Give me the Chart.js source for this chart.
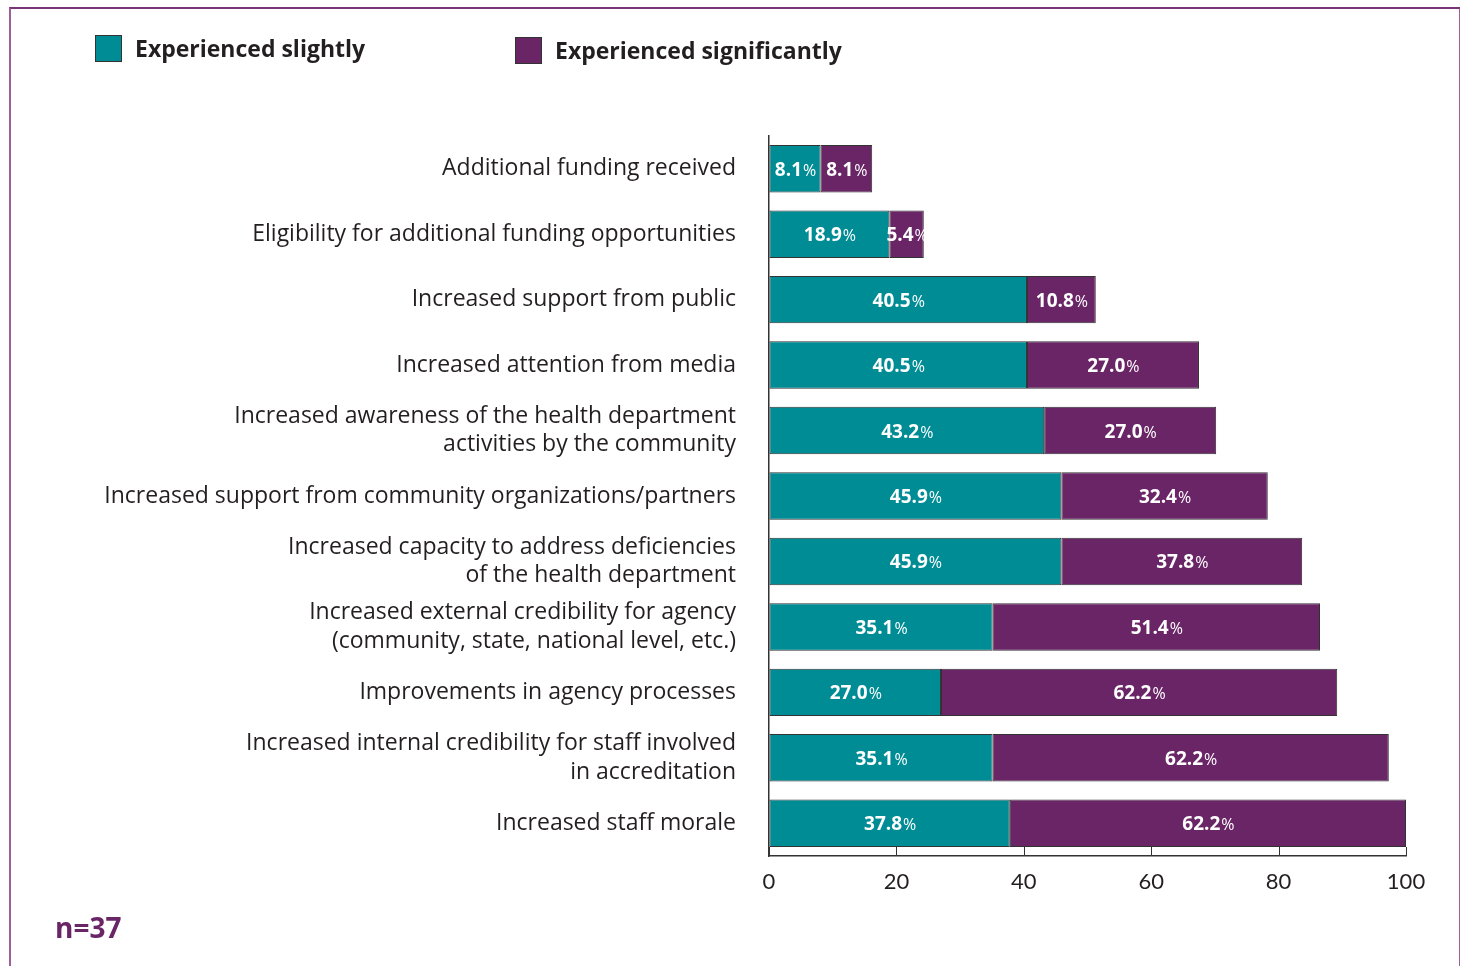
<!DOCTYPE html>
<html>
<head>
<meta charset="utf-8">
<script src="https://cdn.jsdelivr.net/npm/chart.js@4.4.1/dist/chart.umd.min.js"></script>
<style>
    body { margin: 0; background: #fff; font-family: "Open Sans", sans-serif; }
    #wrap { position: relative; width: 1460px; height: 966px; overflow: hidden; }
    #frame {
        position: absolute; left: 9px; top: 7px; width: 1448px; height: 980px;
        border-top: 2px solid #7a3577; border-left: 2px solid #9c5f99; border-right: 2px solid #9c5f99;
    }
    canvas { position: absolute; left: 0; top: 0; }
    .legend-item { position: absolute; display: flex; align-items: center; font-weight: bold; font-size: 23px; color: #231f20; }
    .swatch { width: 25px; height: 25px; border: 1px solid #333; margin-right: 13px; }
    #note { position: absolute; left: 55px; top: 908px; font-weight: bold; font-size: 28px; color: #6a2567; }
</style>
</head>
<body>
<div id="wrap">
    <div id="frame"></div>
    <canvas id="chart" width="1460" height="966"></canvas>
    <div class="legend-item" style="left:95px; top:32px;"><div class="swatch" style="background:#008c95"></div>Experienced slightly</div>
    <div class="legend-item" style="left:515px; top:34px;"><div class="swatch" style="background:#6a2567"></div>Experienced significantly</div>
    <div id="note">n=37</div>
</div>
<script>
const categories = [
    "Additional funding received",
    "Eligibility for additional funding opportunities",
    "Increased support from public",
    "Increased attention from media",
    ["Increased awareness of the health department", "activities by the community"],
    "Increased support from community organizations/partners",
    ["Increased capacity to address deficiencies", "of the health department"],
    ["Increased external credibility for agency", "(community, state, national level, etc.)"],
    "Improvements in agency processes",
    ["Increased internal credibility for staff involved", "in accreditation"],
    "Increased staff morale",
];
const slightly = [8.1, 18.9, 40.5, 40.5, 43.2, 45.9, 45.9, 35.1, 27.0, 35.1, 37.8];
const significantly = [8.1, 5.4, 10.8, 27.0, 27.0, 32.4, 37.8, 51.4, 62.2, 62.2, 62.2];
const xTicks = [0, 20, 40, 60, 80, 100];

const teal = "#008c95";
const purple = "#6a2567";
const ink = "#231f20";

const innerTicks = {
    id: "innerTicks",
    afterDatasetsDraw(chart) {
        const ctx = chart.ctx;
        const scale = chart.scales.x;
        const bottom = chart.chartArea.bottom;
        ctx.save();
        ctx.strokeStyle = "#333";
        ctx.lineWidth = 1;
        xTicks.forEach((v) => {
            const x = Math.round(scale.getPixelForValue(v)) + 0.5;
            ctx.beginPath();
            ctx.moveTo(x, bottom - 9);
            ctx.lineTo(x, bottom);
            ctx.stroke();
        });
        ctx.restore();
    },
};

const barLabels = {
    id: "barLabels",
    afterDatasetsDraw(chart) {
        const ctx = chart.ctx;
        ctx.save();
        ctx.fillStyle = "#fff";
        ctx.textBaseline = "alphabetic";
        chart.data.datasets.forEach((ds, di) => {
            const meta = chart.getDatasetMeta(di);
            meta.data.forEach((bar, i) => {
                const num = ds.data[i].toFixed(1);
                ctx.font = "bold 19px 'Open Sans'";
                const w1 = ctx.measureText(num).width;
                ctx.font = "16px 'Open Sans'";
                const w2 = ctx.measureText("%").width;
                const cx = (bar.x + bar.base) / 2;
                const left = cx - (w1 + w2) / 2;
                const y = bar.y + 7;
                ctx.font = "bold 19px 'Open Sans'";
                ctx.fillText(num, left, y);
                ctx.font = "16px 'Open Sans'";
                ctx.fillText("%", left + w1 + 1, y);
            });
        });
        ctx.restore();
    },
};

new Chart(document.getElementById("chart"), {
    type: "bar",
    data: {
        labels: categories,
        datasets: [
            {
                label: "Experienced slightly",
                data: slightly,
                backgroundColor: teal,
                borderColor: "#333",
                borderWidth: 1,
                borderSkipped: false,
                barPercentage: 0.725,
                categoryPercentage: 1,
            },
            {
                label: "Experienced significantly",
                data: significantly,
                backgroundColor: purple,
                borderColor: "#333",
                borderWidth: 1,
                borderSkipped: false,
                barPercentage: 0.725,
                categoryPercentage: 1,
            },
        ],
    },
    options: {
        indexAxis: "y",
        responsive: false,
        animation: false,
        layout: { padding: { top: 136, right: 54, bottom: 0, left: 0 } },
        plugins: {
            legend: { display: false },
            tooltip: { enabled: false },
        },
        scales: {
            x: {
                stacked: true,
                min: 0,
                max: 100,
                afterBuildTicks: (scale) => {
                    scale.ticks = xTicks.map((v) => ({ value: v }));
                },
                afterFit: (scale) => { scale.height = 110; },
                ticks: { color: ink, font: { family: "Lato", size: 22 }, padding: 13 },
                grid: { drawOnChartArea: false, drawTicks: false },
                border: { color: "#333", width: 1.5 },
            },
            y: {
                stacked: true,
                afterFit: (scale) => { scale.width = 769; },
                ticks: {
                    color: ink,
                    font: { family: "Open Sans", size: 23, lineHeight: 1.25 },
                    padding: 33,
                },
                grid: { drawOnChartArea: false, drawTicks: false },
                border: { color: "#333", width: 1.5 },
            },
        },
    },
    plugins: [innerTicks, barLabels],
});
</script>
</body>
</html>
